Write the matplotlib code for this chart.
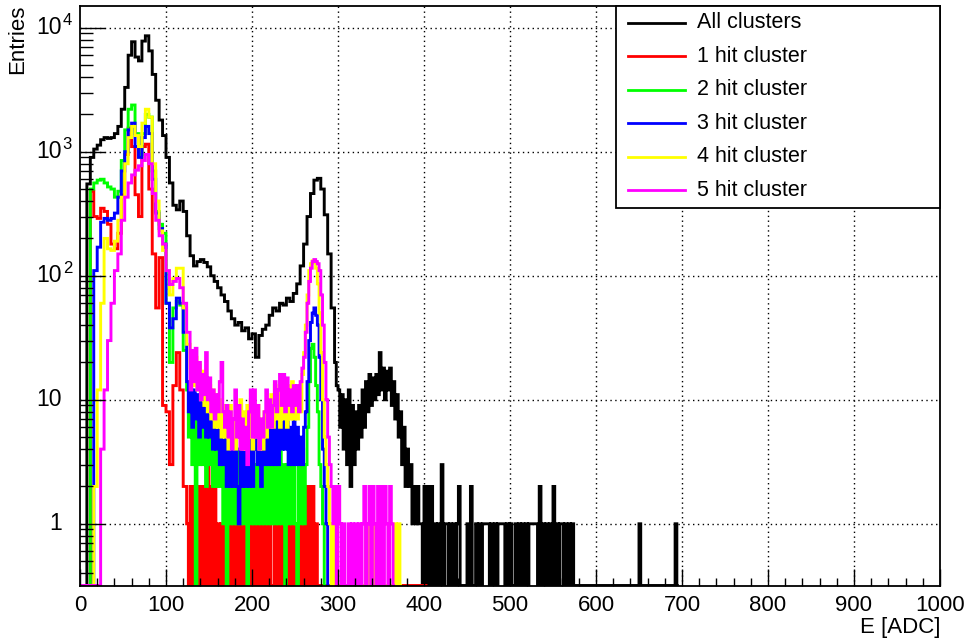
import numpy as np
import matplotlib
matplotlib.use("Agg")
import matplotlib.pyplot as plt
import matplotlib.transforms as mtransforms
from matplotlib.patches import Rectangle
from matplotlib.lines import Line2D
from matplotlib.ticker import MultipleLocator, FixedLocator, LogLocator, NullFormatter

plt.rcParams["font.family"] = ["Liberation Sans", "DejaVu Sans"]

# Spectra are stored as 4 ADC bins up to a split energy and 2 ADC bins after it
# (the sparse tails are shown at the finer binning).
COARSE_W, FINE_W = 4, 2
Y_MIN, Y_MAX = 0.318, 15100

# --- All clusters ---
all_split = 296
all_coarse = [
    0, 0, 550, 900, 1050, 1130, 1250, 1300, 1280, 1300,
    1400, 1600, 2200, 3300, 6000, 7700, 5800, 5400, 7800, 8600,
    6500, 4200, 2600, 1800, 1350, 900, 560, 370, 340, 400,
    330, 210, 145, 120, 130, 135, 128, 118, 100, 90,
    80, 70, 62, 52, 45, 40, 42, 36, 38, 31,
    34, 22, 33, 37, 40, 48, 55, 52, 60, 58,
    66, 62, 72, 86, 120, 180, 300, 460, 590, 610,
    500, 310, 150, 55,
]
all_fine = [
    20, 13, 12, 6, 11, 4, 10, 3, 12, 2,
    9, 3, 8, 4, 9, 5, 12, 6, 14, 8,
    16, 9, 15, 10, 16, 11, 24, 12, 18, 10,
    17, 12, 18, 9, 14, 7, 11, 5, 8, 3,
    6, 2, 4, 2, 3, 1, 2, 1, 2, 1,
    1, 0, 2, 0, 2, 0, 2, 0, 1, 0,
    1, 0, 3, 0, 1, 1, 0, 1, 0, 1,
    0, 1, 2, 0, 0, 0, 0, 1, 0, 2,
    0, 0, 1, 0, 1, 0, 1, 1, 1, 1,
    0, 1, 0, 1, 0, 1, 1, 1, 1, 0,
    1, 0, 1, 0, 0, 1, 0, 1, 0, 1,
    0, 1, 0, 1, 1, 1, 1, 1, 0, 2,
    0, 1, 0, 1, 0, 1, 0, 2, 0, 1,
    0, 1, 1, 0, 1, 0, 1, 0, 1, 0,
    0, 0, 0, 0, 0, 0, 0, 0, 0, 0,
    0, 0, 0, 0, 0, 0, 0, 0, 0, 0,
    0, 0, 0, 0, 0, 0, 0, 0, 0, 0,
    0, 0, 0, 0, 0, 0, 0, 1, 0, 0,
    0, 0, 0, 0, 0, 0, 0, 0, 0, 0,
    0, 0, 0, 0, 0, 0, 0, 0, 1, 0,
]

# --- 1 hit clusters ---
hit1_split = 124
hit1_coarse = [
    0, 0, 0, 480, 300, 290, 350, 330, 260, 180,
    165, 220, 450, 950, 1550, 1100, 450, 300, 1100, 1150,
    500, 150, 55, 140, 9, 8, 3, 13, 24, 12,
    2,
]
hit1_fine = [
    1, 0, 2, 0, 2, 0, 2, 0, 2, 0,
    2, 0, 4, 0, 2, 0, 2, 0, 1, 0,
    1, 0, 2, 0, 1, 0, 1, 0, 1, 0,
    2, 0, 1, 0, 1, 0, 2, 0, 2, 0,
    1, 0, 1, 0, 1, 0, 1, 0, 2, 0,
    0, 1, 0, 1, 0, 1, 0, 1, 0, 1,
    0, 1, 0, 1, 0, 1, 0, 1, 0, 2,
    0, 2, 0, 2, 0, 1, 0, 0,
] + [0] * 62

# --- 2 hit clusters ---
hit2_split = 124
hit2_coarse = [
    0, 0, 0, 500, 560, 590, 600, 560, 520, 500,
    430, 480, 850, 1500, 2200, 2380, 1400, 950, 1400, 2000,
    1900, 700, 330, 260, 220, 60, 20, 55, 62, 58,
    25,
]
hit2_fine = [
    12, 5, 9, 3, 7, 0, 8, 3, 7, 3,
    8, 2, 6, 3, 7, 2, 6, 2, 5, 2,
    5, 1, 4, 0, 4, 1, 5, 1, 3, 1,
    4, 1, 3, 1, 3, 0, 3, 1, 4, 1,
    3, 1, 3, 1, 4, 1, 3, 1, 4, 1,
    3, 1, 3, 1, 4, 1, 3, 0, 3, 1,
    4, 1, 3, 1, 0, 3, 1, 4, 1, 3,
    6, 14, 26, 28, 22, 13, 8, 3, 2, 1,
    0,
]

# --- 3 hit clusters ---
hit3_split = 124
hit3_coarse = [
    0, 0, 0, 0, 110, 170, 270, 290, 280, 290,
    320, 430, 700, 1000, 1500, 1700, 1100, 900, 1300, 1600,
    1400, 600, 320, 240, 180, 60, 38, 45, 66, 60,
    35,
]
hit3_fine = [
    14, 8, 12, 6, 12, 7, 11, 5, 11, 6,
    10, 5, 12, 5, 9, 4, 8, 4, 7, 3,
    6, 3, 5, 2, 5, 2, 4, 2, 5, 2,
    1, 4, 2, 5, 2, 4, 2, 5, 2, 4,
    6, 3, 5, 2, 5, 3, 6, 3, 6, 3,
    7, 3, 7, 3, 8, 4, 7, 4, 7, 3,
    6, 3, 7, 3, 6, 3, 5, 3, 6, 8,
    14, 30, 42, 50, 55, 48, 40, 22, 10, 4,
    2, 1, 0,
]

# --- 4 hit clusters ---
hit4_split = 128
hit4_coarse = [
    0, 0, 0, 0, 2, 12, 60, 200, 165, 160,
    190, 280, 430, 800, 1300, 1600, 1350, 1100, 1700, 2200,
    1900, 800, 400, 230, 160, 110, 70, 95, 115, 115,
    55, 28,
]
hit4_fine = [
    18, 24, 13, 22, 12, 19, 10, 17, 9, 15,
    8, 13, 7, 12, 6, 11, 6, 10, 5, 9,
    5, 8, 4, 9, 5, 7, 4, 8, 5, 10,
    4, 8, 4, 9, 5, 10, 4, 8, 5, 9,
    4, 7, 4, 8, 5, 9, 6, 11, 6, 13,
    7, 12, 6, 14, 7, 12, 6, 13, 7, 14,
    7, 12, 7, 13, 8, 16, 24, 40, 70, 110,
    125, 132, 128, 115, 86, 50, 24, 10, 5, 3,
    2, 1, 0, 1, 0, 0, 0, 0, 0, 0,
    0, 0, 0, 0, 0, 0, 0, 0, 0, 0,
    0, 0, 1, 0, 1, 0, 0, 1, 1, 0,
    1, 0, 0, 0, 0, 0, 0, 0, 0, 1,
    0, 1, 0,
]

# --- 5 hit clusters ---
hit5_split = 128
hit5_coarse = [
    0, 0, 0, 0, 0, 0, 4, 12, 30, 60,
    110, 150, 280, 430, 560, 650, 710, 770, 850, 950,
    800, 460, 280, 210, 180, 110, 85, 90, 95, 80,
    60, 35,
]
hit5_fine = [
    12, 25, 14, 26, 12, 20, 10, 16, 11, 24,
    10, 15, 8, 12, 7, 11, 8, 14, 20, 8,
    6, 9, 5, 8, 4, 7, 12, 5, 9, 4,
    7, 4, 6, 3, 8, 12, 5, 12, 5, 9,
    4, 7, 5, 8, 12, 6, 10, 6, 9, 14,
    8, 12, 16, 9, 16, 8, 15, 9, 12, 8,
    13, 9, 13, 8, 14, 18, 22, 35, 60, 90,
    115, 130, 135, 130, 125, 110, 70, 40, 20, 10,
    5, 3, 2, 1, 2, 0, 2, 1, 0, 1,
    0, 0, 1, 0, 1, 0, 1, 0, 1, 0,
    1, 2, 0, 1, 2, 0, 2, 1, 0, 2,
    0, 2, 0, 2, 1, 0, 2, 1, 0,
]

labels = ["All clusters", "1 hit cluster", "2 hit cluster",
          "3 hit cluster", "4 hit cluster", "5 hit cluster"]
colors = ["#000000", "#ff0000", "#00ff00", "#0000ff", "#ffff00", "#ff00ff"]
spectra = [
    (all_split, all_coarse, all_fine),
    (hit1_split, hit1_coarse, hit1_fine),
    (hit2_split, hit2_coarse, hit2_fine),
    (hit3_split, hit3_coarse, hit3_fine),
    (hit4_split, hit4_coarse, hit4_fine),
    (hit5_split, hit5_coarse, hit5_fine),
]


def build_hist(split, coarse, fine):
    """Join the coarse and fine parts into one set of edges and counts."""
    edges = np.concatenate([
        np.arange(len(coarse)) * COARSE_W,
        split + np.arange(len(fine) + 1) * FINE_W,
    ])
    vals = np.asarray(coarse + fine, dtype=float)
    return edges, vals


fig = plt.figure(figsize=(9.69, 6.42), dpi=100)
W, H = 969, 642
ax = fig.add_axes([80 / W, 1 - 585.5 / H, 860 / W, 580 / H])

# dotted grid behind everything
for gx in range(100, 1000, 100):
    ax.axvline(gx, color="black", lw=1.0, ls=(0, (1, 2.5)), zorder=0.5)
for gy in [1, 10, 100, 1000, 10000]:
    ax.axhline(gy, color="black", lw=1.0, ls=(0, (1, 2.5)), zorder=0.5)

# empty bins sit on the lower edge of the log axis
for (split, coarse, fine), col in zip(spectra, colors):
    edges, vals = build_hist(split, coarse, fine)
    shown = np.where(vals > 0, vals, Y_MIN)
    ax.stairs(shown, edges, baseline=None, color=col, lw=2.1, zorder=2,
              snap=False)

ax.set_yscale("log")
ax.set_xlim(0, 1000)
ax.set_ylim(Y_MIN, Y_MAX)

ax.set_axisbelow(False)
for side in ["top", "right", "bottom", "left"]:
    ax.spines[side].set_linewidth(1.3)
    ax.spines[side].set_zorder(3)

ax.xaxis.set_major_locator(MultipleLocator(100))
ax.xaxis.set_minor_locator(MultipleLocator(20))
ax.yaxis.set_major_locator(FixedLocator([1, 10, 100, 1000, 10000]))
ax.yaxis.set_minor_locator(LogLocator(base=10, subs=np.arange(2, 10)))
ax.yaxis.set_major_formatter(NullFormatter())
ax.yaxis.set_minor_formatter(NullFormatter())
ax.tick_params(axis="x", which="major", direction="in", length=12, width=1.0,
               labelsize=16, pad=7, top=False)
ax.tick_params(axis="x", which="minor", direction="in", length=6, width=1.0, top=False)
ax.tick_params(axis="y", which="major", direction="in", length=18, width=1.0, right=False)
ax.tick_params(axis="y", which="minor", direction="in", length=9, width=1.0, right=False)

# y labels in ROOT style: 1, 10, 10^2 ...
ylab_trans = mtransforms.blended_transform_factory(ax.transAxes, ax.transData)
sup_trans = mtransforms.offset_copy(ylab_trans, fig=fig, x=0, y=7, units="dots")
for val, base, power in [(1, "1", None), (10, "10", None), (100, "10", "2"),
                         (1000, "10", "3"), (10000, "10", "4")]:
    ax.text(-0.021, val, base, transform=ylab_trans, ha="right", va="center",
            fontsize=16.5)
    if power:
        ax.text(-0.020, val, power, transform=sup_trans, ha="left", va="center",
                fontsize=12)

fig.text(18 / W, 1 - 5 / H, "Entries", rotation=90, ha="center", va="top", fontsize=16)
fig.text(940 / W, 1 - 628 / H, "E [ADC]", ha="right", va="center", fontsize=16)

# legend box in the upper right corner
lx0, lx1 = (616 - 80) / 860, 1.0
ly0 = (585.5 - 208) / 580
ax.add_patch(Rectangle((lx0, ly0), lx1 - lx0, 1 - ly0, transform=ax.transAxes,
                       facecolor="white", edgecolor="black", lw=1.3, zorder=4,
                       clip_on=False))
for i, (lab, col) in enumerate(zip(labels, colors)):
    ry = (585.5 - (23 + i * 33.4)) / 580
    ax.add_line(Line2D([(628 - 80) / 860, (685 - 80) / 860], [ry, ry],
                       transform=ax.transAxes, color=col, lw=2.0, zorder=5))
    ax.text((697 - 80) / 860, ry, lab, transform=ax.transAxes, ha="left",
            va="center", fontsize=15.5, zorder=5)

fig.savefig("out.png", dpi=100)
